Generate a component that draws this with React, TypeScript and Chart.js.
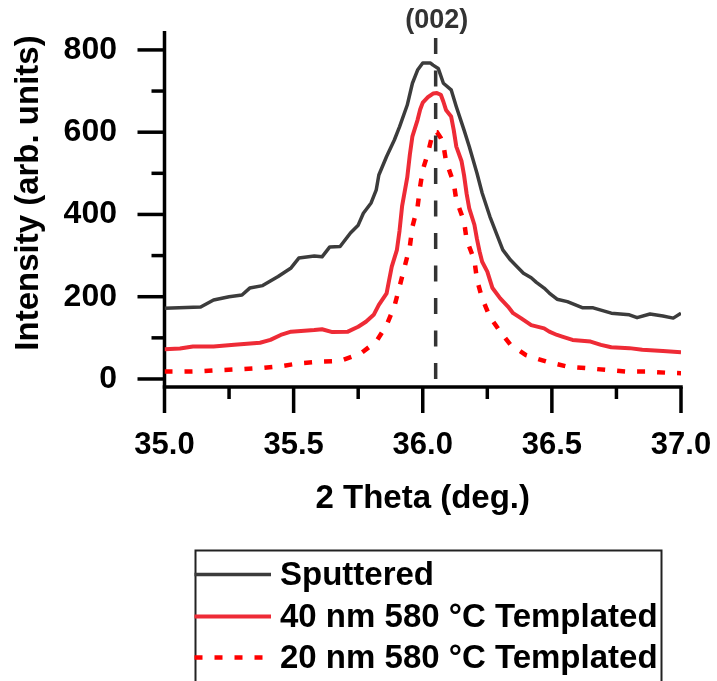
import { useEffect, useRef } from "react";
import { Chart, registerables } from "chart.js";

Chart.register(...registerables);

// ---------- data ----------
const seriesLabels = ["Sputtered", "40 nm 580 °C Templated", "20 nm 580 °C Templated"];

const sputteredX = [35.0, 35.14, 35.19, 35.25, 35.3, 35.33, 35.38, 35.44, 35.49, 35.52, 35.58, 35.61, 35.64, 35.68, 35.72, 35.75, 35.77, 35.8, 35.82, 35.83, 35.86, 35.89, 35.91, 35.94, 35.96, 35.98, 36.0, 36.03, 36.04, 36.06, 36.08, 36.11, 36.13, 36.16, 36.18, 36.21, 36.23, 36.26, 36.29, 36.31, 36.34, 36.37, 36.39, 36.42, 36.44, 36.47, 36.49, 36.52, 36.56, 36.62, 36.66, 36.73, 36.8, 36.83, 36.88, 36.93, 36.97, 37.0];
const sputteredY = [172, 175, 192, 200, 204, 221, 227, 249, 270, 294, 299, 297, 321, 322, 355, 374, 403, 428, 460, 496, 541, 581, 613, 666, 719, 751, 768, 768, 763, 755, 719, 703, 662, 605, 565, 500, 452, 395, 346, 314, 289, 270, 257, 246, 235, 221, 209, 194, 188, 173, 173, 160, 156, 149, 158, 153, 148, 160];

const templated40X = [35.0, 35.06, 35.11, 35.19, 35.27, 35.37, 35.41, 35.45, 35.49, 35.58, 35.61, 35.65, 35.71, 35.75, 35.78, 35.81, 35.83, 35.86, 35.87, 35.88, 35.9, 35.91, 35.92, 35.94, 35.95, 35.96, 35.98, 35.99, 36.0, 36.02, 36.04, 36.055, 36.07, 36.08, 36.09, 36.11, 36.12, 36.13, 36.15, 36.16, 36.17, 36.18, 36.2, 36.21, 36.22, 36.23, 36.25, 36.26, 36.27, 36.3, 36.33, 36.35, 36.38, 36.42, 36.47, 36.49, 36.52, 36.54, 36.58, 36.65, 36.69, 36.73, 36.8, 36.85, 36.93, 37.0];
const templated40Y = [72, 74, 79, 79, 83, 88, 95, 107, 115, 119, 121, 114, 115, 127, 139, 156, 180, 208, 241, 273, 314, 360, 420, 490, 545, 590, 630, 655, 672, 685, 694, 695, 691, 674, 654, 638, 605, 565, 530, 495, 450, 415, 375, 340, 310, 285, 261, 241, 221, 196, 176, 160, 148, 131, 123, 115, 107, 103, 95, 91, 83, 77, 75, 71, 68, 65];

const templated20X = [35.0, 35.07, 35.15, 35.23, 35.3, 35.38, 35.46, 35.52, 35.6, 35.68, 35.76, 35.82, 35.86, 35.89, 35.91, 35.93, 35.95, 35.96, 35.98, 35.99, 36.0, 36.02, 36.04, 36.055, 36.07, 36.08, 36.09, 36.12, 36.13, 36.16, 36.17, 36.2, 36.21, 36.23, 36.26, 36.3, 36.34, 36.4, 36.48, 36.56, 36.64, 36.71, 36.79, 36.87, 36.95, 37.0];
const templated20Y = [18, 18, 19, 22, 24, 27, 32, 38, 42, 44, 62, 91, 131, 176, 224, 273, 322, 370, 419, 468, 508, 549, 601, 600, 586, 569, 530, 476, 435, 383, 338, 289, 241, 196, 151, 115, 83, 58, 42, 30, 26, 22, 18, 18, 15, 14];

const peakPosition = 36.05;
const peakLabel = "(002)";
const peakLineTop = 829;

const xMajorTicks = [35.0, 35.5, 36.0, 36.5, 37.0];
const xMinorTicks = [35.25, 35.75, 36.25, 36.75];
const yMajorTicks = [0, 200, 400, 600, 800];
const yMinorTicks = [100, 300, 500, 700];

const xTitle = "2 Theta (deg.)";
const yTitle = "Intensity (arb. units)";

const X_MIN = 35;
const X_MAX = 37;
const Y_MIN = -19.5;
const Y_MAX = 846;

// ---------- styles ----------
const FONT = '"Liberation Sans", Arial, sans-serif';
const SPUTTERED_COLOR = "#3c3c3c";
const T40_COLOR = "#ee2b36";
const T20_COLOR = "#ff0000";
const PEAK_COLOR = "#333333";

const toPoints = (xs: number[], ys: number[]) => xs.map((x, i) => ({ x, y: ys[i] }));

const zeroPadding = (scale: any) => {
  scale.paddingLeft = 0;
  scale.paddingRight = 0;
  scale.paddingTop = 0;
  scale.paddingBottom = 0;
};

const axesPlugin = {
  id: "axesTicks",
  beforeDatasetsDraw(chart: any) {
    const { ctx, chartArea: a, scales } = chart;
    const xs = scales.x;
    const ys = scales.y;
    ctx.save();
    ctx.strokeStyle = "#000";
    ctx.lineWidth = 3.5;
    ctx.lineCap = "butt";
    const seg = (x1: number, y1: number, x2: number, y2: number) => {
      ctx.beginPath();
      ctx.moveTo(x1, y1);
      ctx.lineTo(x2, y2);
      ctx.stroke();
    };
    seg(a.left, a.top, a.left, a.bottom);
    seg(a.left - 1.75, a.bottom, a.right + 1.75, a.bottom);
    yMajorTicks.forEach((v) => {
      const p = ys.getPixelForValue(v);
      seg(a.left - 27, p, a.left, p);
    });
    yMinorTicks.forEach((v) => {
      const p = ys.getPixelForValue(v);
      seg(a.left - 13, p, a.left, p);
    });
    xMajorTicks.forEach((v) => {
      const p = xs.getPixelForValue(v);
      seg(p, a.bottom, p, a.bottom + 26);
    });
    xMinorTicks.forEach((v) => {
      const p = xs.getPixelForValue(v);
      seg(p, a.bottom, p, a.bottom + 12);
    });
    ctx.restore();
  },
};

const textPlugin = {
  id: "textExtras",
  afterDraw(chart: any) {
    const { ctx, chartArea: a, scales } = chart;
    ctx.save();
    ctx.fillStyle = "#000";
    ctx.font = `bold 33px ${FONT}`;
    ctx.textAlign = "center";
    ctx.textBaseline = "middle";
    ctx.fillText(xTitle, (a.left + a.right) / 2, 499);
    ctx.save();
    ctx.translate(29, 193);
    ctx.rotate(-Math.PI / 2);
    ctx.fillText(yTitle, 0, 0);
    ctx.restore();
    ctx.fillStyle = PEAK_COLOR;
    ctx.font = `bold 27px ${FONT}`;
    ctx.fillText(peakLabel, scales.x.getPixelForValue(peakPosition) + 1, 21);
    ctx.restore();
  },
};

const legendPlugin = {
  id: "boxLegend",
  afterDraw(chart: any) {
    const { ctx } = chart;
    const boxLeft = 195.5;
    const boxRight = 661.5;
    const boxTop = 550.5;
    const rows = [574.5, 616.5, 657.5];
    ctx.save();
    ctx.strokeStyle = "#222";
    ctx.lineWidth = 2;
    ctx.strokeRect(boxLeft, boxTop, boxRight - boxLeft, 140);
    chart.data.datasets.slice(0, 3).forEach((ds: any, i: number) => {
      const y = rows[i];
      ctx.strokeStyle = ds.borderColor;
      ctx.lineWidth = ds.borderWidth;
      ctx.setLineDash(ds.borderDash || []);
      ctx.beginPath();
      ctx.moveTo(boxLeft - 1, y);
      ctx.lineTo(271, y);
      ctx.stroke();
      ctx.setLineDash([]);
      ctx.fillStyle = "#000";
      ctx.font = `bold 33px ${FONT}`;
      ctx.textAlign = "left";
      ctx.textBaseline = "middle";
      ctx.fillText(ds.label, 280, y + 1);
    });
    ctx.restore();
  },
};

export default function App() {
  const canvasRef = useRef<HTMLCanvasElement | null>(null);

  useEffect(() => {
    document.body.style.margin = "0";
    const canvas = canvasRef.current;
    if (!canvas) return;
    const chart = new Chart(canvas, {
      type: "line",
      data: {
        datasets: [
          {
            label: seriesLabels[0],
            data: toPoints(sputteredX, sputteredY),
            borderColor: SPUTTERED_COLOR,
            borderWidth: 3.5,
            pointRadius: 0,
            tension: 0,
            borderJoinStyle: "round",
            order: 3,
          },
          {
            label: seriesLabels[1],
            data: toPoints(templated40X, templated40Y),
            borderColor: T40_COLOR,
            borderWidth: 4,
            pointRadius: 0,
            tension: 0,
            borderJoinStyle: "round",
            order: 2,
          },
          {
            label: seriesLabels[2],
            data: toPoints(templated20X, templated20Y),
            borderColor: T20_COLOR,
            borderWidth: 4.5,
            borderDash: [8, 12],
            pointRadius: 0,
            tension: 0,
            order: 1,
          },
          {
            label: peakLabel,
            data: [
              { x: peakPosition, y: peakLineTop },
              { x: peakPosition, y: Y_MIN },
            ],
            borderColor: PEAK_COLOR,
            borderWidth: 3.5,
            borderDash: [16, 16.5],
            pointRadius: 0,
            tension: 0,
            order: 0,
          },
        ],
      },
      options: {
        animation: false,
        responsive: false,
        devicePixelRatio: 1,
        events: [],
        layout: { padding: { left: 0, top: 31, right: 36, bottom: 0 } },
        plugins: {
          legend: { display: false },
          title: { display: false },
          tooltip: { enabled: false },
        },
        scales: {
          x: {
            type: "linear",
            min: X_MIN,
            max: X_MAX,
            grid: { display: false, drawTicks: false },
            border: { display: false },
            afterBuildTicks: (scale: any) => {
              scale.ticks = xMajorTicks.map((v) => ({ value: v }));
            },
            afterFit: (scale: any) => {
              scale.height = 681 - 387;
              zeroPadding(scale);
            },
            ticks: {
              padding: 40,
              color: "#000",
              font: { family: FONT, size: 31, weight: "bold" },
              maxRotation: 0,
              autoSkip: false,
              callback: (v: any) => Number(v).toFixed(1),
            },
          },
          y: {
            type: "linear",
            min: Y_MIN,
            max: Y_MAX,
            grid: { display: false, drawTicks: false },
            border: { display: false },
            afterBuildTicks: (scale: any) => {
              scale.ticks = yMajorTicks.map((v) => ({ value: v }));
            },
            afterFit: (scale: any) => {
              scale.width = 164.5;
              zeroPadding(scale);
            },
            ticks: {
              padding: 47.5,
              color: "#000",
              font: { family: FONT, size: 32, weight: "bold" },
              autoSkip: false,
              callback: (v: any) => String(v),
            },
          },
        },
      },
      plugins: [axesPlugin, textPlugin, legendPlugin],
    } as any);
    return () => chart.destroy();
  }, []);

  return (
    <div style={{ width: 717, height: 681, background: "#fff" }}>
      <canvas ref={canvasRef} width={717} height={681} style={{ display: "block" }} />
    </div>
  );
}
